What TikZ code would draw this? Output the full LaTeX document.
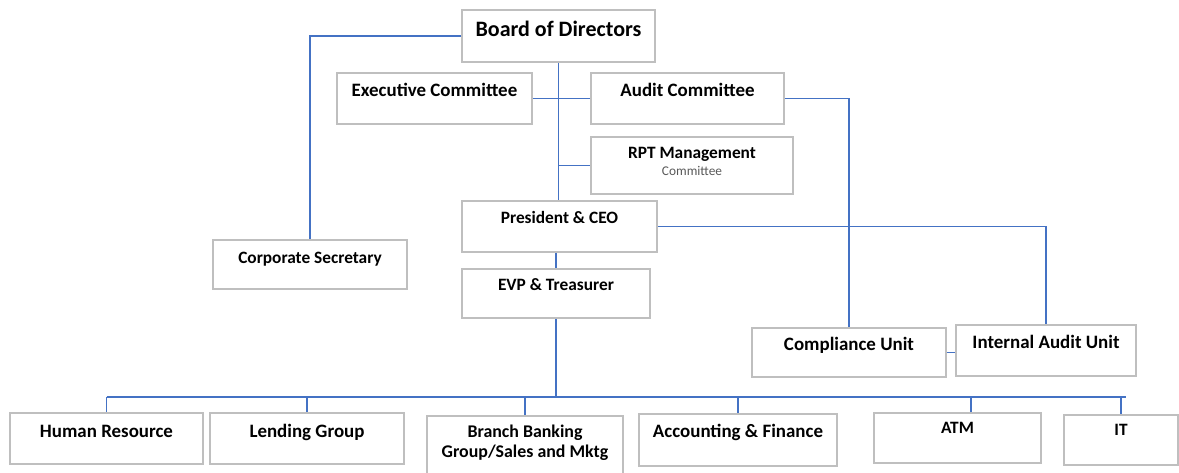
\documentclass[tikz,border=0pt]{standalone}
\usepackage{fontspec}
\setmainfont{Carlito}
\usetikzlibrary{positioning}
\definecolor{linkblue}{HTML}{4472C4}
\definecolor{boxgrey}{HTML}{BFBFBF}
\definecolor{subgrey}{HTML}{595959}
\newlength{\pxu}
\setlength{\pxu}{0.75pt}
\tikzstyle{unit} = [rectangle, draw=boxgrey, line width=1.4pt, fill=white, anchor=north, inner sep=0pt,
    text height=24\pxu, text depth=27\pxu, font=\fontsize{14.2}{17}\selectfont\bfseries]
\tikzstyle{small} = [font=\fontsize{13}{15}\selectfont\bfseries]

\begin{document}
\begin{tikzpicture}[
    x=0.75pt, y=-0.75pt,
    link/.style={draw=linkblue, line width=1.1pt}
]
    \fill[white] (0,0) rectangle (1179,472);
    \useasboundingbox (0,0) rectangle (1179,472);

    % board and committees
    \node[unit, minimum width=193\pxu, text height=27\pxu, text depth=25\pxu,
        font=\fontsize{16.5}{20}\selectfont\bfseries] (board) at (558.5,9) {Board of Directors};
    \node[unit, minimum width=195\pxu] (exec) at (434.5,72) {Executive Committee};
    \node[unit, minimum width=193\pxu] (audit) at (687.5,72) {Audit Committee};
    % two-line boxes sit on their last line
    \node[unit, minimum width=202\pxu, align=center, text height=39\pxu, text depth=18\pxu,
        font=\fontsize{13}{12.75}\selectfont\bfseries] (rpt) at (692,136)
        {RPT Management\\{\fontsize{10}{12.75}\selectfont\mdseries\color{subgrey}Committee}};

    % officers
    \node[unit, small, minimum width=195\pxu, text height=23\pxu, text depth=28\pxu] (pres) at (559.5,200) {President \& CEO};
    \node[unit, small, minimum width=188\pxu, text height=22\pxu, text depth=27\pxu] (evp) at (556,268) {EVP \& Treasurer};
    \node[unit, small, minimum width=194\pxu, text height=24\pxu, text depth=25\pxu] (corpsec) at (310,239) {Corporate Secretary};
    \node[unit, minimum width=194\pxu, text height=23\pxu, text depth=26\pxu] (comp) at (849,327) {Compliance Unit};
    \node[unit, minimum width=180\pxu] (iau) at (1046,324) {Internal Audit Unit};

    % groups
    \node[unit, minimum width=193\pxu, text height=25\pxu, text depth=26\pxu] (hr) at (106.5,412) {Human Resource};
    \node[unit, minimum width=194\pxu, text height=25\pxu, text depth=26\pxu] (lend) at (307,412) {Lending Group};
    \node[unit, minimum width=196\pxu, align=center, text height=42\pxu, text depth=50\pxu,
        font=\fontsize{13.4}{15}\selectfont\bfseries] (branch) at (525,415) {Branch Banking\\Group/Sales and Mktg};
    \node[unit, minimum width=198\pxu, text height=24\pxu, text depth=28\pxu] (acc) at (738,413) {Accounting \& Finance};
    \node[unit, small, minimum width=167\pxu, text height=21\pxu, text depth=29\pxu] (atm) at (957.5,412) {ATM};
    \node[unit, small, minimum width=114\pxu, text height=21\pxu, text depth=29\pxu] (it) at (1121,414) {IT};

    % reporting lines
    \draw[link] (board.west) -| (corpsec.north);
    \draw[link] (board.south) -- (board.south |- pres.north);
    \draw[link] (exec.east) -- (audit.west);
    \draw[link] (board.south |- rpt.west) -- (rpt.west);
    \draw[link] (audit.east) -| (comp.north);
    \draw[link] (pres.east) -| (iau.north);
    \draw[link] (evp.north |- pres.south) -- (evp.north);
    \draw[link] (comp.east) -- (comp.east -| iau.west);

    % bus to the groups
    \coordinate (bus) at (0,397);
    \coordinate (busend) at (1126,397);
    \coordinate (atmtap) at (971,397);
    \draw[link] (hr.north |- bus) -- (busend);
    \draw[link] (evp.south) -- (evp.south |- bus);
    \foreach \u in {hr, lend, branch, acc, it}
        \draw[link] (\u.north |- bus) -- (\u.north);
    \draw[link] (atmtap) -- (atmtap |- atm.north);
\end{tikzpicture}
\end{document}
